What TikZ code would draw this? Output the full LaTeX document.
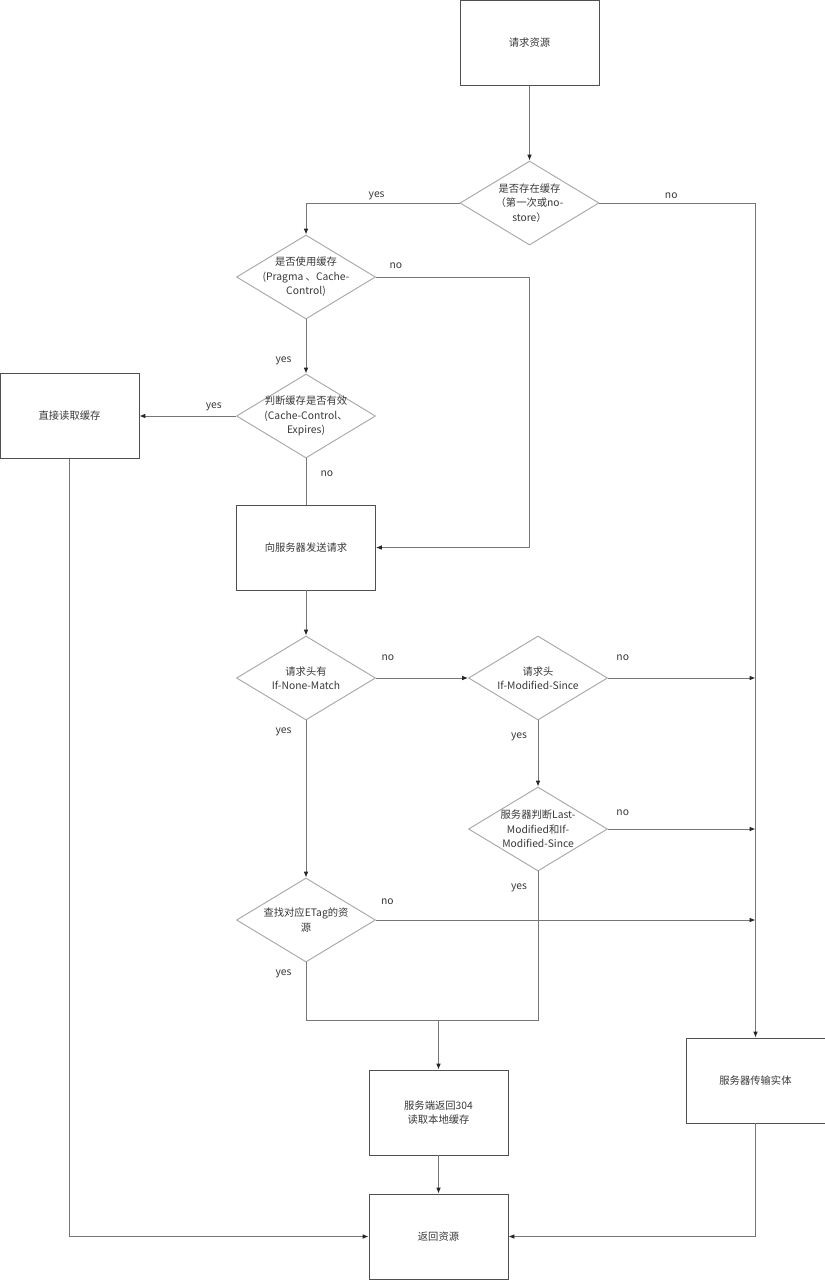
\documentclass[tikz,border=0pt]{standalone}
\usepackage{fontspec}
\setmainfont{Noto Sans CJK SC}
\usetikzlibrary{shapes.geometric,arrows.meta}
\definecolor{boxline}{HTML}{505050}
\definecolor{judgeline}{HTML}{A8A8A8}
\definecolor{conn}{HTML}{767676}
\definecolor{tipcol}{HTML}{262626}
\definecolor{txt}{HTML}{383838}
\tikzset{
  txtfont/.style={font=\fontsize{8.8}{12.4}\selectfont},
  box/.style={draw=boxline,line width=0.8pt,minimum width=4.17cm,minimum height=2.55cm,text=txt,align=center,txtfont},
  judge/.style={draw=judgeline,diamond,line width=0.8pt,minimum width=4.17cm,minimum height=2.52cm,inner sep=0pt},
  ask/.style={text=txt,align=center,inner sep=0pt,txtfont},
  line/.style={draw=conn,line width=0.8pt},
  arr/.style={line,-{Latex[length=5pt,width=4pt,color=tipcol]}},
  tag/.style={text=txt,inner sep=0pt,txtfont},
}
\begin{document}
\begin{tikzpicture}[x=0.03cm,y=-0.03cm]
	\useasboundingbox (0,0) rectangle (825,1280);

	\node[box] (start) at (529.5,43) {请求资源};
	\node[judge,label={[ask]center:{是否存在缓存\\（第一次或no-\\store）}}] (hasCache) at (529.5,203) {};
	\node[judge,label={[ask]center:{是否使用缓存\\(Pragma 、Cache-\\Control)}}] (useCache) at (306,277) {};
	\node[judge,label={[ask]center:{判断缓存是否有效\\(Cache-Control、\\Expires)}}] (valid) at (306,416) {};
	\node[box] (readCache) at (69.5,416) {直接读取缓存};
	\node[box] (request) at (306,547.5) {向服务器发送请求};
	\node[judge,label={[ask]center:{请求头有\\If-None-Match}}] (noneMatch) at (306,678) {};
	\node[judge,label={[ask]center:{请求头\\If-Modified-Since}}] (modSince) at (538,678) {};
	\node[judge,label={[ask]center:{服务器判断Last-\\Modified和If-\\Modified-Since}}] (lastMod) at (538,829) {};
	\node[judge,label={[ask]center:{查找对应ETag的资\\源}}] (etag) at (306,920) {};
	\node[box] (ret304) at (438.5,1112.5) {服务端返回304\\读取本地缓存};
	\node[box] (entity) at (755.5,1080.5) {服务器传输实体};
	\node[box] (result) at (438.5,1236.5) {返回资源};
	\coordinate (join) at (438.5,1020);

	\draw[arr] (start) -- (hasCache);
	\draw[arr] (hasCache.west) -| node[tag,pos=0.27,above=2pt]{yes} (useCache.north);
	\draw[arr] (hasCache.east) -| node[tag,pos=0.23,above=3pt]{no} (entity.north);
	\draw[arr] (useCache.east) -- node[tag,pos=0.13,above=7pt]{no} (useCache.east -| hasCache) |- (request.east);
	\draw[arr] (useCache) -- node[tag,pos=0.76,left=12pt]{yes} (valid);
	\draw[arr] (valid) -- node[tag,pos=0.23,above=4pt]{yes} (readCache);
	\draw[line] (valid) -- node[tag,pos=0.34,right=12pt]{no} (request);
	\draw[arr] (request) -- (noneMatch);
	\draw[arr] (noneMatch) -- node[tag,pos=0.13,above=14.5pt]{no} (modSince);
	\draw[arr] (modSince.east) -- node[tag,pos=0.1,above=14.5pt]{no} (modSince.east -| entity);
	\draw[arr] (modSince) -- node[tag,pos=0.24,left=9pt]{yes} (lastMod);
	\draw[arr] (lastMod.east) -- node[tag,pos=0.1,above=11pt]{no} (lastMod.east -| entity);
	\draw[arr] (noneMatch) -- node[tag,pos=0.07,left=12pt]{yes} (etag);
	\draw[arr] (etag.east) -- node[tag,pos=0.03,above=12.5pt]{no} (etag.east -| entity);
	\draw[line] (etag.south) |- node[tag,pos=0.1,left=12pt]{yes} (join);
	\draw[line] (lastMod.south) |- node[tag,pos=0.055,left=9pt]{yes} (join);
	\draw[arr] (join) -- (ret304);
	\draw[arr] (ret304) -- (result);
	\draw[arr] (readCache.south) |- (result.west);
	\draw[arr] (entity.south) |- (result.east);
\end{tikzpicture}
\end{document}
